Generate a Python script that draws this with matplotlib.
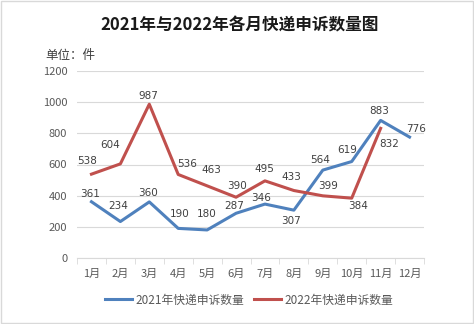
import matplotlib.pyplot as plt
import numpy as np

plt.rcParams['font.family'] = ['Noto Sans CJK SC', 'DejaVu Sans']

months = ['1月', '2月', '3月', '4月', '5月', '6月', '7月', '8月', '9月', '10月', '11月', '12月']
counts2021 = [361, 234, 360, 190, 180, 287, 346, 307, 564, 619, 883, 776]
counts2022 = [538, 604, 987, 536, 463, 390, 495, 433, 399, 384, 832]

# label offsets in pixels (dx, dy), like the excel chart
off2021 = [(-1, 8), (-2, 16), (-1, 9), (1, 14), (0, 16), (-2, 7), (-4, 6), (-3, -11),
           (-3, 10), (-5, 12), (-1, 9), (7, 8)]
off2022 = [(-4, 13), (-10, 19), (-1, 8), (9, 10), (4, 16), (1, 11), (-1, 12), (-2, 14),
           (5, 10), (6, -8), (9, -16)]

blue = '#4F81BD'
red = '#C0504D'

fig = plt.figure(figsize=(4.74, 3.24), dpi=100)
ax = fig.add_axes([77 / 474, 1 - 258 / 324, 347 / 474, 187 / 324])

x = np.arange(len(months))
ax.plot(x, counts2021, color=blue, lw=2.2, solid_joinstyle='round', label='2021年快递申诉数量')
ax.plot(x[:len(counts2022)], counts2022, color=red, lw=2.2, solid_joinstyle='round', label='2022年快递申诉数量')

for i, v in enumerate(counts2021):
    dx, dy = off2021[i]
    ax.annotate(str(v), (x[i], v), xytext=(dx * 0.72, dy * 0.72), textcoords='offset points',
                ha='center', va='center', fontsize=7.5, color='#404040', family='DejaVu Sans')
for i, v in enumerate(counts2022):
    dx, dy = off2022[i]
    ax.annotate(str(v), (x[i], v), xytext=(dx * 0.72, dy * 0.72), textcoords='offset points',
                ha='center', va='center', fontsize=7.5, color='#404040', family='DejaVu Sans')

ax.set_xlim(-0.5, 11.5)
ax.set_ylim(0, 1200)
ax.set_yticks(range(0, 1201, 200))
ax.grid(axis='y', color='#D9D9D9', lw=0.8)
ax.set_axisbelow(True)
for s in ['top', 'right', 'left']:
    ax.spines[s].set_visible(False)
ax.spines['bottom'].set_color('#D9D9D9')
ax.tick_params(axis='y', length=0, labelsize=8, labelcolor='#595959', pad=7)
ax.set_xticks(x)
ax.set_xticklabels(months)
ax.tick_params(axis='x', length=0, labelsize=8, labelcolor='#595959', pad=8)
ax.set_xticks(np.arange(-0.5, 12, 1), minor=True)
ax.tick_params(axis='x', which='minor', length=4, color='#D9D9D9', direction='out')

fig.text(0.506, 0.922, '2021年与2022年各月快递申诉数量图', ha='center', va='center',
         fontsize=12, fontweight='bold', color='#1a1a1a')
fig.text(45 / 474, 1 - 55 / 324, '单位：件', ha='left', va='center', fontsize=9, color='#404040')

leg = fig.legend(loc='center', bbox_to_anchor=(0.525, 1 - 300 / 324), ncol=2, frameon=False,
                 fontsize=8.5, handlelength=2.3, columnspacing=0.8, handletextpad=0.3)
for t in leg.get_texts():
    t.set_color('#595959')

fig.patches.append(plt.Rectangle((0.002, 0.003), 0.995, 0.994, transform=fig.transFigure,
                                 fill=False, edgecolor='#D9D9D9', lw=1))

fig.savefig('out.png', dpi=100)
